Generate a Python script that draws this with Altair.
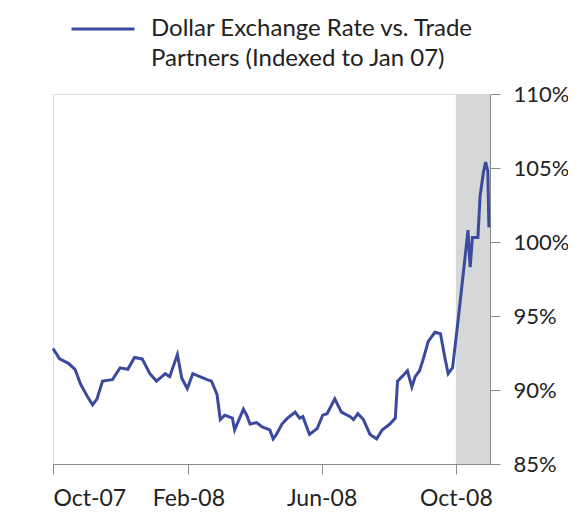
import altair as alt
import pandas as pd

dates = [
    "2007-10-01", "2007-10-07", "2007-10-15", "2007-10-21", "2007-10-26",
    "2007-11-01", "2007-11-06", "2007-11-10", "2007-11-15", "2007-11-24",
    "2007-12-01", "2007-12-08", "2007-12-14", "2007-12-21", "2007-12-28",
    "2008-01-03", "2008-01-11", "2008-01-15", "2008-01-22", "2008-01-26",
    "2008-01-31", "2008-02-05", "2008-02-18", "2008-02-22", "2008-02-27",
    "2008-03-01", "2008-03-05", "2008-03-12", "2008-03-14", "2008-03-22",
    "2008-03-25", "2008-03-28", "2008-04-03", "2008-04-08", "2008-04-15",
    "2008-04-18", "2008-04-21", "2008-04-26", "2008-05-01", "2008-05-08",
    "2008-05-12", "2008-05-15", "2008-05-21", "2008-05-28", "2008-06-02",
    "2008-06-06", "2008-06-13", "2008-06-19", "2008-06-27", "2008-06-30",
    "2008-07-04", "2008-07-09", "2008-07-15", "2008-07-21", "2008-07-26",
    "2008-08-02", "2008-08-07", "2008-08-09", "2008-08-13", "2008-08-18",
    "2008-08-22", "2008-08-25", "2008-08-29", "2008-09-01", "2008-09-06",
    "2008-09-12", "2008-09-17", "2008-09-21", "2008-09-24", "2008-09-28",
    "2008-10-03", "2008-10-07", "2008-10-11", "2008-10-12", "2008-10-13",
    "2008-10-14", "2008-10-16", "2008-10-21", "2008-10-23", "2008-10-26",
    "2008-10-28", "2008-10-30", "2008-10-31",
]
values = [
    92.8, 92.1, 91.8, 91.4, 90.4,
    89.6, 89.0, 89.4, 90.6, 90.7,
    91.5, 91.4, 92.2, 92.1, 91.1,
    90.6, 91.1, 90.9, 92.4, 90.8,
    90.1, 91.1, 90.7, 90.6, 89.7,
    88.0, 88.3, 88.1, 87.3, 88.7,
    88.3, 87.7, 87.8, 87.5, 87.3,
    86.7, 87.0, 87.7, 88.1, 88.5,
    88.1, 88.2, 87.0, 87.4, 88.3,
    88.4, 89.4, 88.5, 88.2, 88.0,
    88.4, 88.0, 87.0, 86.7, 87.3,
    87.7, 88.1, 90.6, 90.9, 91.3,
    90.2, 90.9, 91.3, 92.0, 93.3,
    93.9, 93.8, 92.2, 91.1, 91.5,
    94.7, 97.4, 100.1, 100.8, 99.4,
    98.3, 100.3, 100.3, 103.1, 104.7,
    105.4, 104.8, 101.0,
]
series_name = "Dollar Exchange Rate vs. Trade|Partners (Indexed to Jan 07)"
shade_start = ["2008-10-01"]
shade_end = ["2008-11-01"]
x_ticks = ["2007-10-01", "2008-02-01", "2008-06-01", "2008-10-01"]
y_ticks = [85, 90, 95, 100, 105, 110]

df = pd.DataFrame({"date": dates, "value": values, "series": series_name})
shade_df = pd.DataFrame({"start": shade_start, "end": shade_end})

FONT = "Lato"
x_scale = alt.Scale(domain=["2007-10-01", "2008-11-01"])
y_scale = alt.Scale(domain=[85, 110], nice=False, zero=False)

shade = alt.Chart(shade_df).mark_rect(color="#d5d7d9").encode(
    x=alt.X("start:T", scale=x_scale),
    x2="end:T",
)

line = alt.Chart(df).mark_line(strokeWidth=3).encode(
    x=alt.X(
        "date:T",
        scale=x_scale,
        axis=alt.Axis(
            title=None,
            values=x_ticks,
            format="%b-%y",
            grid=False,
            domainColor="#8a8a8a",
            tickColor="#8a8a8a",
            tickSize=10,
            labelPadding=13,
            labelFontSize=23,
            labelFont=FONT,
            labelColor="#222222",
        ),
    ),
    y=alt.Y(
        "value:Q",
        scale=y_scale,
        axis=alt.Axis(
            title=None,
            orient="right",
            values=y_ticks,
            labelExpr="datum.value + '%'",
            grid=False,
            domainColor="#8a8a8a",
            tickColor="#8a8a8a",
            tickSize=10,
            labelPadding=13,
            labelFontSize=22,
            labelFont=FONT,
            labelColor="#222222",
        ),
    ),
    color=alt.Color(
        "series:N",
        scale=alt.Scale(range=["#3a4a9c"]),
        legend=alt.Legend(
            title=None,
            orient="none",
            legendX=17,
            legendY=-98,
            padding=0,
            symbolType="stroke",
            symbolSize=3969,
            symbolStrokeWidth=3,
            labelOffset=15,
            labelFontSize=24,
            labelFont=FONT,
            labelColor="#222222",
            labelLimit=450,
            labelBaseline="middle",
            labelExpr="split(datum.label, '|')",
        ),
    ),
)

chart = (
    alt.layer(shade, line)
    .properties(
        width=437,
        height=370,
        autosize=alt.AutoSizeParams(type="none"),
        padding={"left": 45, "top": 86, "right": 78, "bottom": 48},
    )
    .configure_view(stroke="#8a8a8a", strokeWidth=1)
    .configure(background="white", style={"guide-label": {"lineHeight": 30}})
)

chart.save("out.html", embed_options={"renderer": "svg", "actions": False})
